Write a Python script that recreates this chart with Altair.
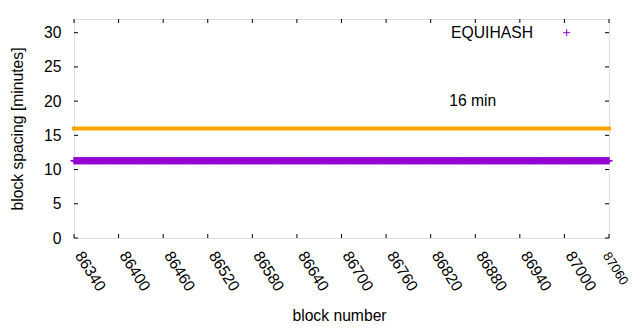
import altair as alt
import pandas as pd

# ---- data ----
first_block, last_block = 86340, 87060
blocks = list(range(first_block, last_block + 1))
# block spacing of every block reads flat at ~11.3 min across the whole range
spacing_reading = 11.3
spacing = [spacing_reading for _ in blocks]
target_minutes = [16]
x_ticks = [86340, 86400, 86460, 86520, 86580, 86640, 86700,
           86760, 86820, 86880, 86940, 87000, 87060]
y_ticks = [0, 5, 10, 15, 20, 25, 30]
label_text = ["16 min"]
label_x = [86845]
label_y = [20]
series_name = "EQUIHASH"

W, H = 535, 219
FONT = "Liberation Sans"
FS = 15.7
PURPLE = "#9400d3"
ORANGE = "#ffa500"

xscale = alt.Scale(domain=[first_block, last_block], nice=False, zero=False)
yscale = alt.Scale(domain=[0, 32], nice=False, zero=True)

last_test = "datum.value == 87060"
xaxis = alt.Axis(values=x_ticks, labelAngle=58, labelAlign="left",
                 labelBaseline="alphabetic", labelPadding=17, ticks=False,
                 domain=False, grid=False, labelFont=FONT,
                 labelFontSize=alt.ConditionalAxisNumber(
                     condition={"test": last_test, "value": 13}, value=FS),
                 labelColor="black", labelFlush=False, labelOverlap=False,
                 labelBound=False, format="d",
                 labelOffset=alt.ConditionalAxisNumber(
                     condition={"test": last_test, "value": -7}, value=0),
                 title="block number",
                 titleFont=FONT, titleFontSize=FS, titleFontWeight="normal",
                 titleColor="black", titleX=265, titleY=82,
                 titleAlign="center", titleBaseline="alphabetic")
yaxis = alt.Axis(values=y_ticks, ticks=False, domain=False, grid=False,
                 labelFont=FONT, labelFontSize=FS, labelColor="black",
                 labelPadding=13, labelFlush=False, labelOverlap=False,
                 labelBaseline="middle", format="d",
                 title="block spacing [minutes]", titleFont=FONT,
                 titleFontSize=FS, titleFontWeight="normal",
                 titleColor="black", titleX=-57, titleY=H / 2,
                 titleAngle=-90, titleAlign="center", titleBaseline="middle")

df = pd.DataFrame({"block": blocks, "spacing": spacing})
df_target = pd.DataFrame({"spacing": target_minutes})
df_xt = pd.DataFrame({"block": x_ticks})
df_yt = pd.DataFrame({"spacing": y_ticks})
df_label = pd.DataFrame({"block": label_x, "spacing": label_y, "text": label_text})
df_leg = pd.DataFrame({"name": [series_name]})

cross = "M-1,0L1,0M0,-1L0,1"

X = alt.X("block:Q", scale=xscale, axis=xaxis)
Y = alt.Y("spacing:Q", scale=yscale, axis=yaxis)

points = alt.Chart(df).mark_point(
    shape=cross, filled=False, size=49, strokeWidth=1.5, color=PURPLE, opacity=1
).encode(x=X, y=Y)

target = alt.Chart(df_target).mark_rule(
    color=ORANGE, strokeWidth=4, strokeCap="square"
).encode(y=Y)

bt = alt.Chart(df_xt).mark_rule(color="black", strokeWidth=1).encode(
    x=X, y=alt.value(H), y2=alt.value(H - 4))
tt = alt.Chart(df_xt).mark_rule(color="black", strokeWidth=1).encode(
    x=X, y=alt.value(0), y2=alt.value(4))
lt = alt.Chart(df_yt).mark_rule(color="black", strokeWidth=1).encode(
    y=Y, x=alt.value(0), x2=alt.value(4))
rt = alt.Chart(df_yt).mark_rule(color="black", strokeWidth=1).encode(
    y=Y, x=alt.value(W), x2=alt.value(W - 4))

label = alt.Chart(df_label).mark_text(
    font=FONT, fontSize=FS, color="black", align="left", baseline="middle"
).encode(x=X, y=Y, text="text:N")

leg_text = alt.Chart(df_leg).mark_text(
    font=FONT, fontSize=FS, color="black", align="right", baseline="alphabetic"
).encode(x=alt.value(459), y=alt.value(18.7), text="name:N")
leg_sym = alt.Chart(df_leg).mark_point(
    shape=cross, filled=False, size=49, strokeWidth=1, color=PURPLE, opacity=1
).encode(x=alt.value(492.7), y=alt.value(13.7))

chart = alt.layer(target, points, bt, tt, lt, rt, label, leg_text, leg_sym).properties(
    width=W, height=H,
    autosize=alt.AutoSizeParams(type="none"),
    padding={"left": 66, "top": 11, "right": 23, "bottom": 84},
).configure_view(stroke="black", strokeWidth=1).configure(background="white")

chart.save("out.html", embed_options={"renderer": "svg", "actions": False})
